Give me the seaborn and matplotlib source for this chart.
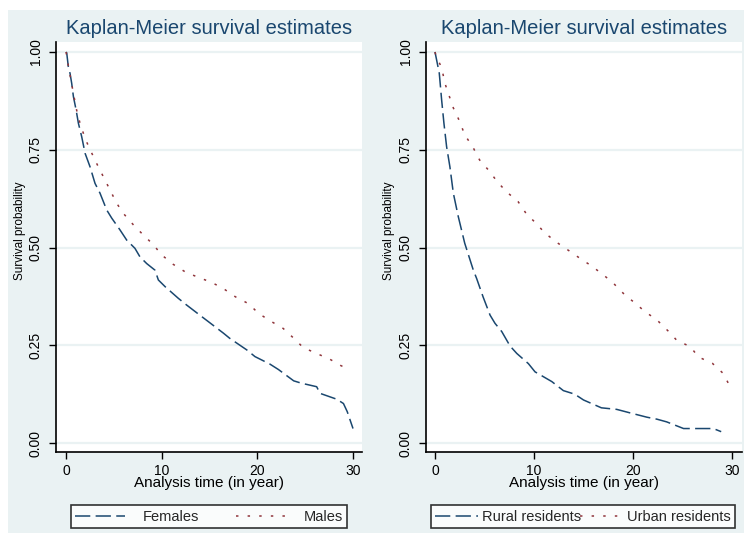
import numpy as np
import pandas as pd
import matplotlib
matplotlib.use("Agg")
import matplotlib.pyplot as plt
import seaborn as sns

# ---------------- data ----------------
fem_t = [0, 0.07, 0.24, 0.42, 0.59, 0.77, 1.05, 1.29, 1.64, 1.99, 2.5, 3.03, 3.55, 4.25,
         4.78, 5.64, 6.34, 7.2, 7.73, 8.43, 9.3, 9.65, 10.35, 11.74, 12.6, 14.2, 14.9,
         16.45, 17.1, 18.9, 19.75, 21.3, 22.2, 23.8, 24.6, 26.2, 26.55, 28.3, 29.0, 29.4, 30.0]
fem_s = [1.0, 0.998, 0.962, 0.945, 0.92, 0.886, 0.852, 0.818, 0.783, 0.741, 0.707, 0.664,
         0.639, 0.596, 0.575, 0.545, 0.519, 0.498, 0.476, 0.459, 0.442, 0.417, 0.4, 0.37,
         0.353, 0.323, 0.31, 0.281, 0.268, 0.238, 0.221, 0.202, 0.188, 0.159, 0.153, 0.144,
         0.127, 0.112, 0.101, 0.08, 0.037]

mal_t = [0, 0.24, 0.5, 0.8, 1.1, 1.46, 1.99, 2.5, 3.2, 3.9, 4.6, 5.3, 6.0, 7.04, 8.08, 9.1,
         10.0, 11.2, 12.5, 13.8, 15.2, 16.45, 17.7, 19.1, 20.1, 21.3, 22.7, 23.8, 24.8,
         26.2, 27.6, 28.8, 29.7]
mal_s = [1.0, 0.965, 0.93, 0.89, 0.852, 0.818, 0.779, 0.751, 0.715, 0.681, 0.647, 0.613,
         0.587, 0.558, 0.532, 0.508, 0.481, 0.457, 0.437, 0.424, 0.411, 0.395, 0.374, 0.356,
         0.332, 0.313, 0.293, 0.268, 0.244, 0.229, 0.214, 0.197, 0.194]

rur_t = [0, 0.43, 0.67, 0.9, 1.17, 1.5, 1.85, 2.35, 3.0, 3.87, 4.2, 4.85, 5.56, 6.06, 6.74,
         7.58, 8.26, 9.43, 10.1, 11.8, 12.96, 14.1, 15.0, 16.8, 18.35, 19.7, 21.4, 22.4,
         23.4, 25.1, 28.1, 28.9]
rur_s = [1.0, 0.946, 0.877, 0.818, 0.758, 0.707, 0.639, 0.579, 0.511, 0.442, 0.421, 0.374,
         0.327, 0.306, 0.285, 0.248, 0.229, 0.203, 0.182, 0.157, 0.134, 0.125, 0.11, 0.09,
         0.086, 0.077, 0.066, 0.061, 0.054, 0.037, 0.037, 0.029]

urb_t = [0, 0.1, 0.67, 1.0, 1.4, 1.85, 2.5, 3.0, 3.8, 4.5, 5.4, 6.3, 7.2, 8.4, 9.2, 10.2,
         11.1, 12.3, 13.4, 14.6, 15.8, 17.0, 18.0, 19.2, 20.2, 21.2, 22.4, 23.6, 24.4,
         25.8, 26.6, 28.0, 29.1, 29.8]
urb_s = [1.0, 0.99, 0.96, 0.92, 0.89, 0.857, 0.822, 0.788, 0.758, 0.724, 0.698, 0.668,
         0.643, 0.617, 0.587, 0.562, 0.537, 0.513, 0.494, 0.473, 0.453, 0.43, 0.409, 0.378,
         0.358, 0.336, 0.315, 0.285, 0.263, 0.246, 0.22, 0.204, 0.178, 0.144]

y_ticks = [0.0, 0.25, 0.5, 0.75, 1.0]
y_ticklabels = ["0.00", "0.25", "0.50", "0.75", "1.00"]
x_ticks = [0, 10, 20, 30]
title = "Kaplan-Meier survival estimates"
xlabel = "Analysis time (in year)"
ylabel = "Survival probability"

# ---------------- style ----------------
sns.set_style("ticks")
plt.rcParams["font.family"] = ["Liberation Sans", "DejaVu Sans"]

BG = "#eaf2f3"
NAVY = "#1a476f"
MAROON = "#90353b"
DASH = (0, (10, 3.5))
DOT = (0, (1.6, 6))

W, H = 744, 533
fig = plt.figure(figsize=(W / 100, H / 100), dpi=100, facecolor="white")
# light graph-region background
fig.patches.append(plt.Rectangle((8 / W, 0), 1 - 8 / W, 1 - 10 / H, transform=fig.transFigure,
                                 facecolor=BG, edgecolor="none", zorder=-10))

def fx(px):
    return px / W

def fy(py):
    return 1 - py / H

ax_top, ax_bot = 42, 452
axL = fig.add_axes([fx(56), fy(ax_bot), fx(362) - fx(56), fy(ax_top) - fy(ax_bot)])
axR = fig.add_axes([fx(426), fy(ax_bot), fx(742) - fx(426), fy(ax_top) - fy(ax_bot)])

panels = [
    (axL, (fem_t, fem_s, "Females"), (mal_t, mal_s, "Males"), (-1.05, 30.94),
     [71, 347]),
    (axR, (rur_t, rur_s, "Rural residents"), (urb_t, urb_s, "Urban residents"), (-0.91, 31.0),
     [431, 735]),
]

for ax, s1, s2, xlim, legx in panels:
    ax.set_facecolor("white")
    for yv in y_ticks:
        ax.axhline(yv, color=BG, lw=1.6, zorder=0)
    df1 = pd.DataFrame({"t": s1[0], "s": s1[1]})
    df2 = pd.DataFrame({"t": s2[0], "s": s2[1]})
    sns.lineplot(data=df1, x="t", y="s", ax=ax, color=NAVY, lw=1.1, linestyle=DASH,
                 estimator=None, sort=False, label=s1[2])
    sns.lineplot(data=df2, x="t", y="s", ax=ax, color=MAROON, lw=1.1, linestyle=DOT,
                 estimator=None, sort=False, label=s2[2])
    ax.set_xlim(*xlim)
    ax.set_ylim(-0.023, 1.0256)
    ax.set_xticks(x_ticks)
    ax.set_yticks(y_ticks)
    ax.set_yticklabels(y_ticklabels, rotation=90, va="center")
    ax.tick_params(axis="both", length=5, width=1, color="black", labelsize=10,
                   labelcolor="black", direction="out")
    ax.tick_params(axis="x", pad=3.5)
    ax.tick_params(axis="y", pad=4.5)
    for sp in ["top", "right"]:
        ax.spines[sp].set_visible(False)
    for sp in ["left", "bottom"]:
        ax.spines[sp].set_color("black")
        ax.spines[sp].set_linewidth(1.2)
    ax.set_xlabel(xlabel, fontsize=11, color="black")
    ax.xaxis.set_label_coords(0.5, -(483 - ax_bot) / (ax_bot - ax_top))
    ax.xaxis.label.set_va("center")
    ax.set_ylabel(ylabel, fontsize=8.5, color="black")
    ax.yaxis.set_label_coords(-(56 - 20) / 306, 0.5 + (247 - 231) / 410)
    ax.yaxis.label.set_va("center")
    ax.set_title(title, fontsize=14.5, color=NAVY, y=1 + (42 - 28) / 410, pad=0,
                 va="center")
    handles, labels = ax.get_legend_handles_labels()
    ax.get_legend().remove()
    x0, x1 = legx
    leg = ax.legend(handles, labels, loc="lower left",
                    bbox_to_anchor=(fx(x0), fy(528), fx(x1) - fx(x0), fy(501) - fy(528)),
                    bbox_transform=fig.transFigure, mode="expand", ncol=2,
                    fontsize=10.5, frameon=True, fancybox=False, edgecolor="black",
                    borderpad=0.3, borderaxespad=0,
                    handlelength=3.4 if ax is axL else 2.9,
                    handletextpad=1.2 if ax is axL else 0.3,
                    columnspacing=1.0 if ax is axL else 0.0)
    leg.get_frame().set_linewidth(1.2)
    leg.get_frame().set_facecolor("white")
    leg.set_in_layout(False)

fig.savefig("out.png", dpi=100, facecolor="white")
